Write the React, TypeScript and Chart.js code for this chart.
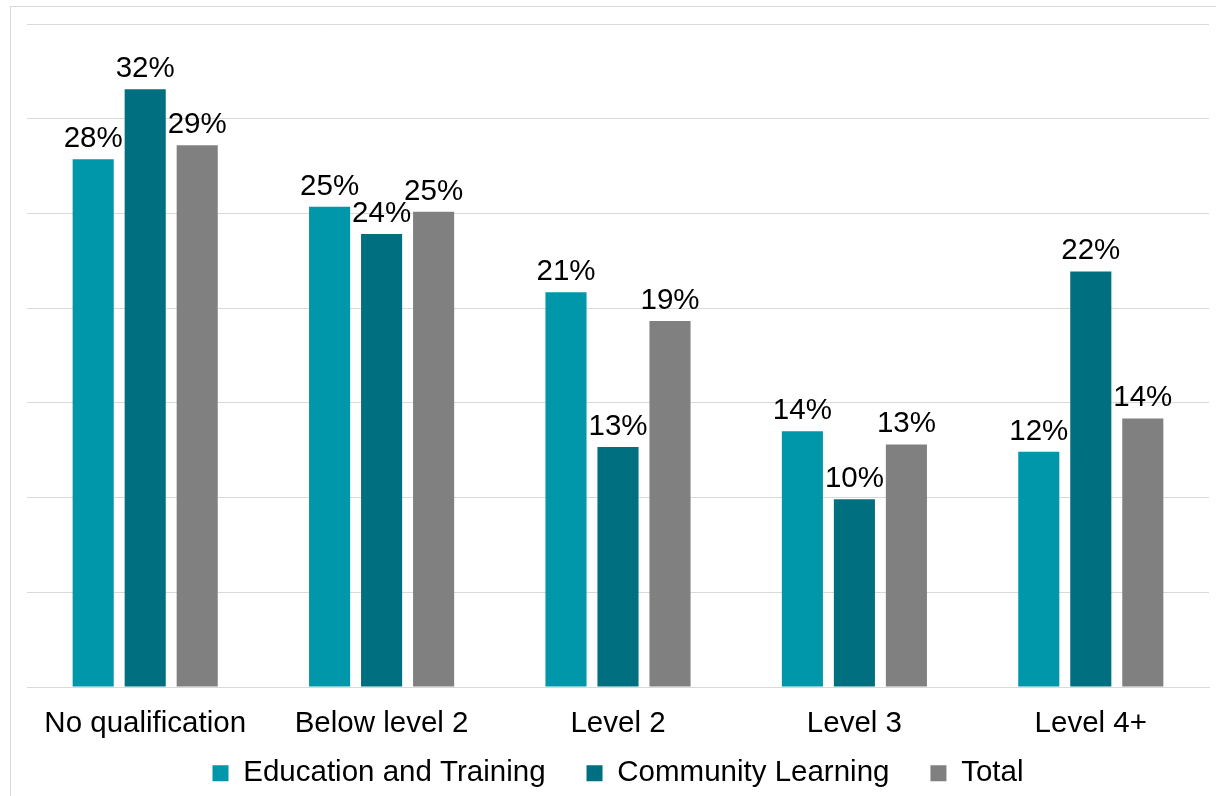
import React, { useEffect, useRef } from "react";
import { Chart, registerables } from "chart.js";

Chart.register(...registerables);

const categories = ["No qualification", "Below level 2", "Level 2", "Level 3", "Level 4+"];
const seriesNames = ["Education and Training", "Community Learning", "Total"];
const educationTraining = [27.86, 25.36, 20.84, 13.51, 12.42];
const communityLearning = [31.55, 23.91, 12.67, 9.92, 21.94];
const total = [28.6, 25.09, 19.32, 12.81, 14.18];
const colors = ["#0097AA", "#006F80", "#808080"];
const yMax = 35;
const yStep = 5;

const FONT = "'Liberation Sans', Arial, sans-serif";
const LEGEND_GAP = "     ";

const labelPlugin = {
  id: "barLabels",
  afterDatasetsDraw(chart: any) {
    const ctx = chart.ctx;
    ctx.save();
    ctx.font = `29.5px ${FONT}`;
    ctx.fillStyle = "#000000";
    ctx.textAlign = "center";
    ctx.textBaseline = "alphabetic";
    chart.data.datasets.forEach((ds: any, di: number) => {
      const meta = chart.getDatasetMeta(di);
      meta.data.forEach((bar: any, i: number) => {
        const v = ds.data[i];
        ctx.fillText(`${Math.round(v)}%`, bar.x, bar.y - 12);
      });
    });
    ctx.restore();
  },
};

export default function App() {
  const ref = useRef<HTMLCanvasElement>(null);
  useEffect(() => {
    if (!ref.current) return;
    const chart = new Chart(ref.current, {
      type: "bar",
      data: {
        labels: categories,
        datasets: [
          { label: seriesNames[0], data: educationTraining, backgroundColor: colors[0] },
          { label: seriesNames[1], data: communityLearning, backgroundColor: colors[1] },
          { label: seriesNames[2], data: total, backgroundColor: colors[2] },
        ],
      },
      options: {
        animation: false,
        responsive: false,
        maintainAspectRatio: false,
        devicePixelRatio: 1,
        layout: { padding: { left: 27, right: 7, top: 24, bottom: 12 } },
        datasets: {
          bar: { categoryPercentage: 0.66, barPercentage: 0.79 },
        },
        scales: {
          x: {
            grid: { display: false, drawTicks: false },
            border: { display: true, color: "#d9d9d9", width: 1 },
            ticks: {
              color: "#000000",
              font: { family: FONT, size: 29.5 },
              padding: 19,
              maxRotation: 0,
              autoSkip: false,
            },
            afterFit: (scale: any) => {
              scale.height -= 2;
            },
          },
          y: {
            min: 0,
            max: yMax,
            ticks: { display: false, stepSize: yStep },
            grid: { color: "#d9d9d9", lineWidth: 1, drawTicks: false },
            border: { display: false },
          },
        },
        plugins: {
          legend: {
            position: "bottom",
            labels: {
              color: "#000000",
              font: { family: FONT, size: 29.5 },
              boxWidth: 16,
              boxHeight: 16,
              padding: 0,
              generateLabels: (c: any) => {
                const items = Chart.defaults.plugins.legend.labels.generateLabels(c);
                return items.map((it: any, i: number) => ({
                  ...it,
                  text: i < items.length - 1 ? it.text + LEGEND_GAP : it.text,
                  lineWidth: 0,
                }));
              },
            },
          },
          tooltip: { enabled: false },
        },
      },
      plugins: [labelPlugin],
    });
    return () => chart.destroy();
  }, []);
  return (
    <div style={{ position: "fixed", left: 0, top: 0, width: 1216, height: 796, background: "#fff", overflow: "hidden" }}>
      <div
        style={{
          position: "absolute",
          left: 10,
          top: 6,
          width: 1230,
          height: 810,
          border: "1px solid #d9d9d9",
          boxSizing: "border-box",
        }}
      />
      <canvas ref={ref} width={1216} height={810} style={{ position: "absolute", left: 0, top: 0, width: 1216, height: 810 }} />
    </div>
  );
}
